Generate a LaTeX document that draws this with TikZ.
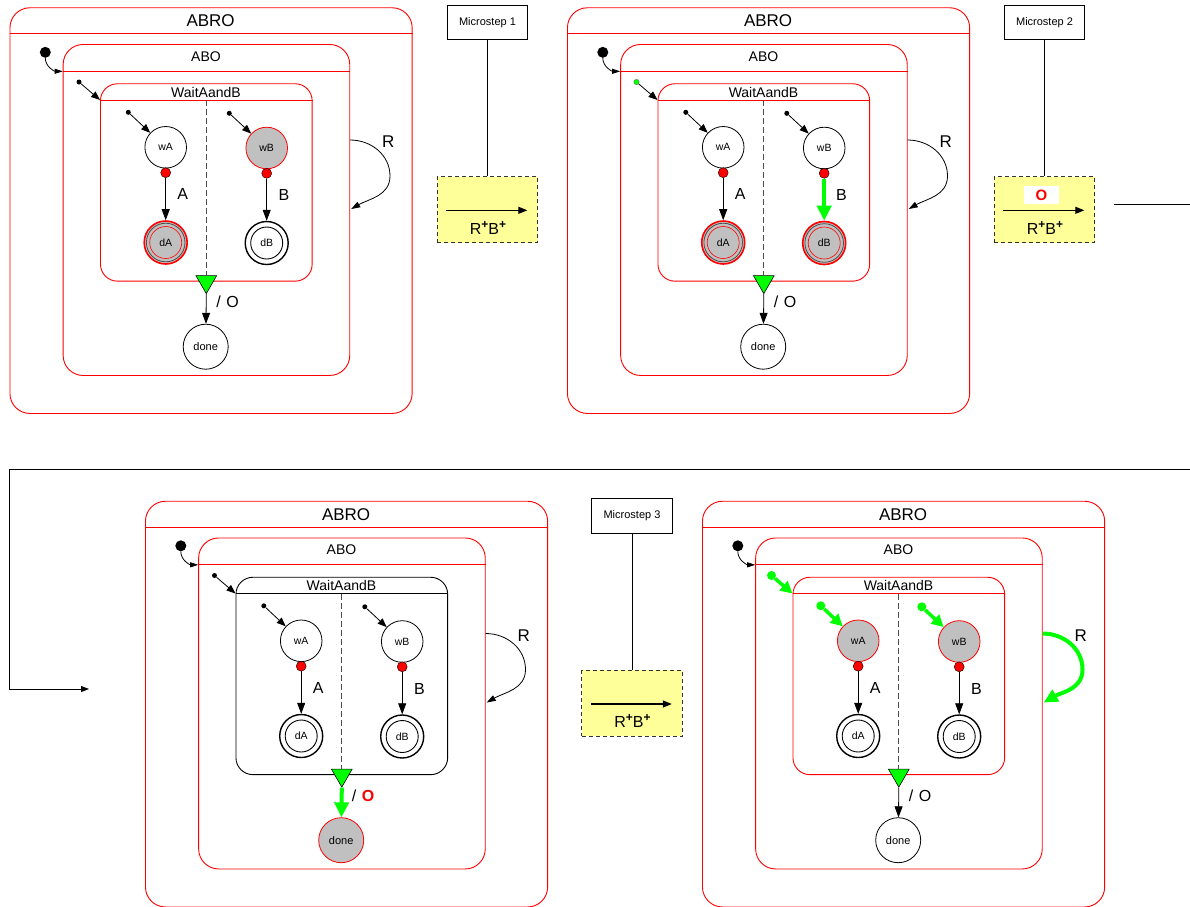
\documentclass[tikz,border=0pt]{standalone}
\usepackage{fontspec}
\setmainfont{Liberation Sans}
\usetikzlibrary{arrows.meta,shapes.geometric}
\definecolor{actgray}{RGB}{192,192,192}
\definecolor{lime}{RGB}{0,255,0}
\definecolor{ylw}{RGB}{255,255,153}
\definecolor{bred}{RGB}{255,0,0}
\newcommand\fs[1]{\fontsize{#1}{#1}\selectfont}
\newcommand\supplus{\raisebox{6pt}{\fs{12}\bfseries +}}

\tikzset{
 every node/.style={inner sep=0pt},
 boxbase/.style={rectangle, anchor=north west, rounded corners=20pt, line width=0.9pt},
 abrocol/.style={draw=bred},
 abocol/.style={draw=bred},
 waitcol/.style={draw=bred},
 abrobox/.style={boxbase, abrocol, minimum width=402.2pt, minimum height=405.7pt},
 abobox/.style={boxbase, abocol, minimum width=286.6pt, minimum height=331pt},
 waitbox/.style={boxbase, waitcol, rounded corners=17pt, minimum width=211.7pt, minimum height=197.4pt},
 stnorm/.style={circle, draw=black, line width=0.8pt, fill=white, minimum size=41.6pt, font=\fs{10.5}},
 stact/.style={stnorm, draw=bred, fill=actgray},
 stfin/.style={stnorm, line width=1.4pt, minimum size=43pt,
   path picture={\draw[black, line width=0.9pt] (path picture bounding box.center) circle[radius=16pt];}},
 stfinact/.style={stnorm, draw=bred, line width=1.6pt, fill=actgray, minimum size=43pt,
   path picture={\draw[black!70, line width=0.8pt] (path picture bounding box.center) circle[radius=19.3pt];
                 \draw[bred, line width=0.6pt] (path picture bounding box.center) circle[radius=16pt];}},
 stdone/.style={stnorm, minimum size=45pt, font=\fs{11}},
 stdoneact/.style={stdone, draw=bred, fill=actgray},
 reddot/.style={circle, fill=bred, draw=black, line width=0.4pt, minimum size=10pt},
 idot/.style={circle, fill=black, minimum size=5pt},
 bigdot/.style={circle, fill=black, minimum size=11pt},
 gdotsmall/.style={circle, fill=lime, draw=black!60, line width=0.3pt, minimum size=5.5pt},
 gdot/.style={circle, fill=lime, minimum size=9pt},
 tarr/.style={draw=black, line width=0.8pt, -{Triangle[length=11pt,width=8pt]}},
 garr/.style={draw=lime, line width=4pt, -{Triangle[length=15pt,width=14pt]}},
 iarr/.style={draw=black, line width=0.8pt, -{Triangle[length=9pt,width=7pt]}},
 giarr/.style={draw=lime, line width=3.5pt, -{Triangle[length=12pt,width=12pt]}},
 rarr/.style={draw=black, line width=0.8pt, -{Triangle[length=9pt,width=6pt]}},
 grarr/.style={draw=lime, line width=4pt, -{Triangle[length=14pt,width=13pt]}},
 tristy/.style={regular polygon, regular polygon sides=3, shape border rotate=180, fill=lime, draw=black, line width=0.6pt, minimum size=24pt},
 sepline/.style={draw=black!70, line width=0.8pt, dash pattern=on 6pt off 3pt},
 biglab/.style={font=\fs{16}},
 ocol/.style={biglab, text=black},
 wAsty/.style={stnorm}, wBsty/.style={stnorm},
 dAsty/.style={stfin}, dBsty/.style={stfin},
 donesty/.style={stdone},
 iWdot/.style={idot}, iAdot/.style={idot}, iBdot/.style={idot},
 iWarr/.style={iarr}, iAarr/.style={iarr}, iBarr/.style={iarr},
 tAarr/.style={tarr}, tBarr/.style={tarr}, tOarr/.style={tarr},
 Rarr/.style={rarr},
 msbox/.style={rectangle, draw=black, line width=0.8pt, fill=white, minimum width=80.6pt, minimum height=34.3pt, font=\fs{11}},
 ybox/.style={rectangle, fill=ylw, draw=black!80, line width=0.9pt, dash pattern=on 4pt off 3pt, minimum width=100.4pt, minimum height=66pt},
 conn/.style={draw=black, line width=0.9pt}
}

\newcommand\abropanel[1]{%
 \node[abrobox] (#1abro) at (9.5,7.3) {};
 \draw[abrocol, line width=0.9pt] ([yshift=-26.4pt]#1abro.north west) -- ([yshift=-26.4pt]#1abro.north east);
 \node[font=\fs{17}] (#1abrot) at (210.6,21) {ABRO};
 \node[abobox] (#1abo) at (62.7,44) {};
 \draw[abocol, line width=0.9pt] ([yshift=-27.3pt]#1abo.north west) -- ([yshift=-27.3pt]#1abo.north east);
 \node[font=\fs{14}] (#1abot) at (206,56.5) {ABO};
 \node[waitbox] (#1wait) at (100,83.3) {};
 \draw[waitcol, line width=0.9pt] ([yshift=-16.7pt]#1wait.north west) -- ([yshift=-16.7pt]#1wait.north east);
 \node[font=\fs{14}] (#1waitt) at (206,92) {WaitAandB};
 \node[tristy] (#1tri) at (#1wait.south) {};
 \draw[sepline] ([yshift=-16.7pt]#1wait.north) -- (#1tri.north);
 \node[wAsty] (#1wA) at (165.7,147.3) {wA};
 \node[wBsty] (#1wB) at (266.7,148) {wB};
 \node[dAsty] (#1dA) at (165.7,242.5) {dA};
 \node[dBsty] (#1dB) at (266.7,243) {dB};
 \node[donesty] (#1done) at (205.7,346.7) {done};
 \node[reddot] (#1pA) at (165.7,172.7) {};
 \node[reddot] (#1pB) at (266.7,173.3) {};
 \draw[tAarr] (#1pA) -- (#1dA);
 \draw[tBarr] (#1pB) -- (#1dB);
 \node[biglab] (#1lA) at (182.7,194) {A};
 \node[biglab] (#1lB) at (284,195) {B};
 \draw[tOarr] (#1tri.south) -- (#1done);
 \node[biglab] (#1lsl) at (218.5,302) {/};
 \node[ocol] (#1lO) at (232.5,302) {O};
 \node[bigdot] (#1i0) at (45.3,52.3) {};
 \draw[draw=black, line width=0.8pt, -{Triangle[length=8pt,width=5pt]}] (#1i0) to[out=-90,in=180] ([yshift=-27.3pt]#1abo.north west);
 \node[iWdot] (#1i1) at (79,82) {};
 \draw[iWarr] (#1i1) -- ([yshift=-16.7pt]#1wait.north west);
 \node[iAdot] (#1i2) at (128.3,112.3) {};
 \draw[iAarr] (#1i2) -- (#1wA);
 \node[iBdot] (#1i3) at (229.3,113.3) {};
 \draw[iBarr] (#1i3) -- (#1wB);
 \coordinate (#1rm) at (390,176);
 \draw[Rarr] ([yshift=-96pt]#1abo.north east) to[out=0,in=90] (#1rm) to[out=-90,in=30] ([yshift=-165pt,xshift=1pt]#1abo.north east);
 \node[font=\fs{17}] (#1lR) at (388.3,141.7) {R};
}

\newcommand\microstep[2]{%
 \node[msbox] (#1box) at (487.5,22.2) {Microstep #2};
 \node[ybox] (#1y) at (487.5,209.7) {};
 \draw[line width=0.8pt] (#1box.south) -- (#1y.north);
 \coordinate (#1a) at (446,210.3);
 \coordinate (#1b) at (527.3,210.3);
 \draw[line width=1.2pt, -{Triangle[length=9pt,width=7pt]}] (#1a) -- (#1b);
 \node[font=\fs{16}, anchor=base] (#1t) at (488,234) {R\supplus B\supplus};
}

\begin{document}
\begin{tikzpicture}[x=1pt,y=-1pt]
\useasboundingbox[fill=white] (0,0) rectangle (1190,906);

% Panel 1
\begin{scope}[wBsty/.style={stact}, dAsty/.style={stfinact}]
 \abropanel{pa}
\end{scope}
\begin{scope}
 \microstep{ma}{1}
\end{scope}

% Panel 2
\begin{scope}[shift={(557.5,0)}, iWdot/.style={gdotsmall}, dAsty/.style={stfinact}, dBsty/.style={stfinact}, tBarr/.style={garr}]
 \abropanel{pb}
\end{scope}
\begin{scope}[shift={(557,0)}]
 \microstep{mb}{2}
 \node[fill=white, minimum width=35pt, minimum height=18.6pt, text=bred, font=\fs{15}\bfseries] (mbO) at (484.5,195) {O};
\end{scope}

% Panel 3
\begin{scope}[shift={(135.5,493.5)}, waitcol/.style={draw=black}, donesty/.style={stdoneact}, tOarr/.style={garr},
   ocol/.style={biglab, text=bred, font=\fs{16}\bfseries}]
 \abropanel{pc}
\end{scope}
\begin{scope}[shift={(144.5,493.7)}]
 \microstep{mc}{3}
\end{scope}

% Panel 4
\begin{scope}[shift={(692.5,493.5)}, wAsty/.style={stact}, wBsty/.style={stact},
   iWdot/.style={gdot}, iAdot/.style={gdot}, iBdot/.style={gdot},
   iWarr/.style={giarr}, iAarr/.style={giarr}, iBarr/.style={giarr}, Rarr/.style={grarr}]
 \abropanel{pd}
\end{scope}

% long connector between rows
\coordinate (c1) at (1113.5,204.5);
\coordinate (c2) at (1190,204.5);
\coordinate (c3) at (1190,469);
\coordinate (c4) at (9,469);
\coordinate (c5) at (9,689);
\coordinate (c6) at (89,689);
\draw[conn] (c1) -- (c2);
\draw[conn, -{Triangle[length=8pt,width=6pt]}] (c3) -- (c4) -- (c5) -- (c6);
\end{tikzpicture}
\end{document}
